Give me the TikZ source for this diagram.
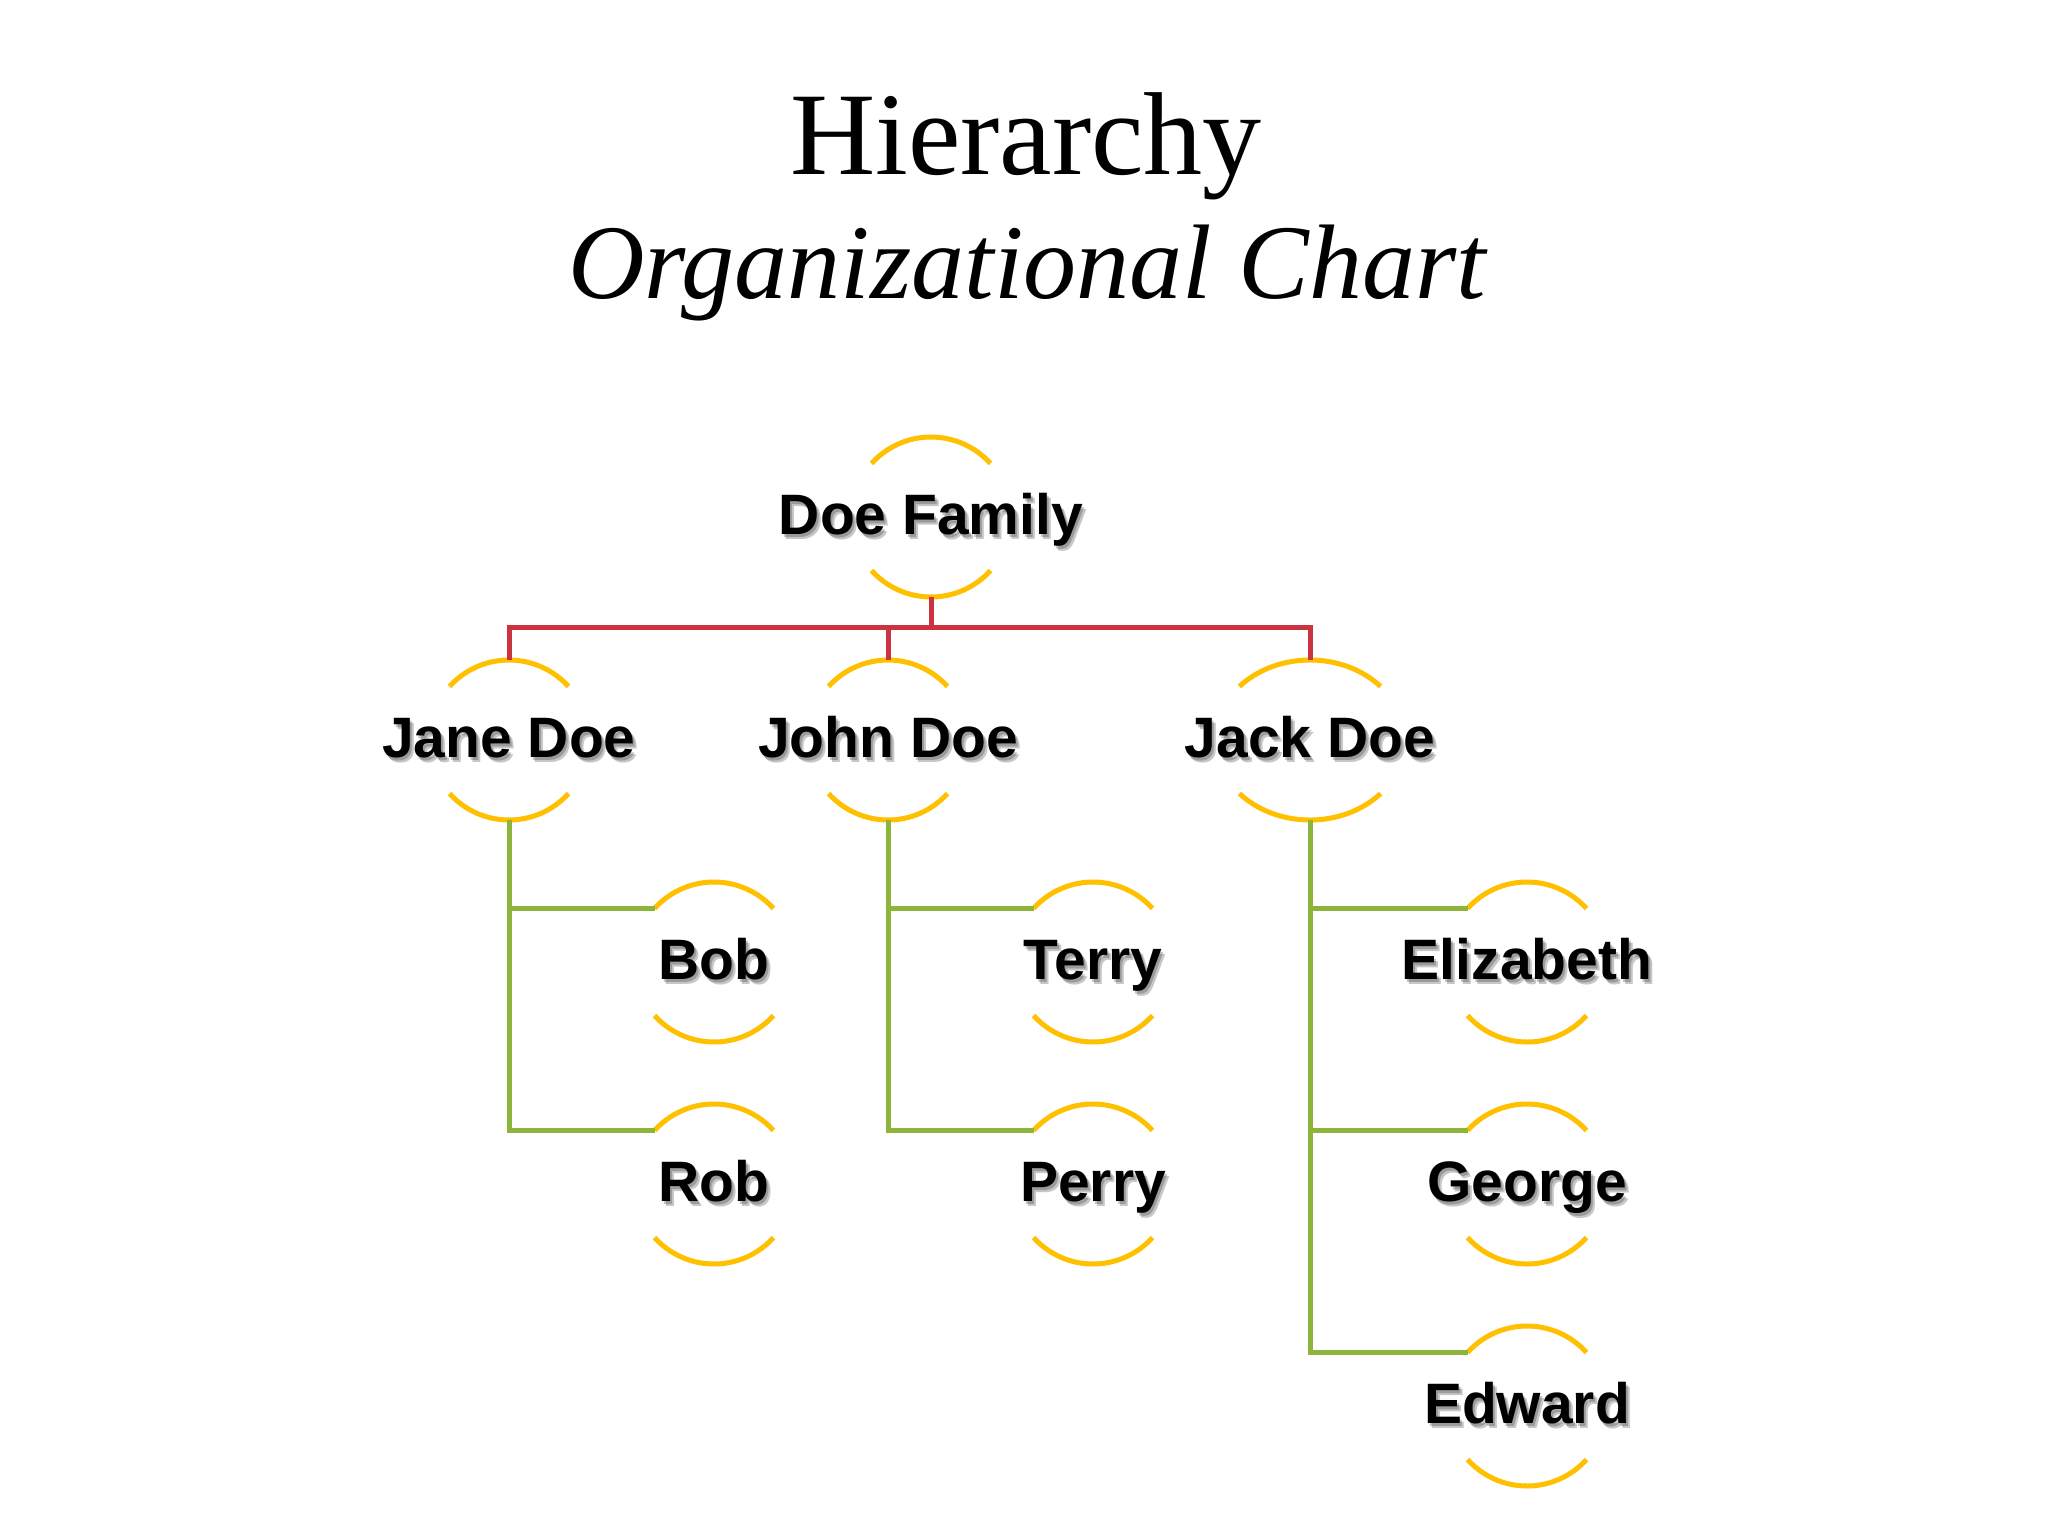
\documentclass[tikz,border=0pt]{standalone}
\usepackage{fontspec}
\setmainfont{Liberation Serif}
\setsansfont{Liberation Sans}
\definecolor{gold}{HTML}{FFC000}
\definecolor{redc}{HTML}{CC3340}
\definecolor{greenc}{HTML}{8DB53C}
\tikzset{
  arcline/.style={draw=gold, line width=2.5pt},
  redline/.style={draw=redc, line width=2.5pt},
  greenline/.style={draw=greenc, line width=2.5pt},
  pnode/.style={circle, minimum size=80pt, inner sep=0pt, outer sep=0pt},
  lbl/.style={font=\sffamily\bfseries\fontsize{28.5}{34}\selectfont, anchor=base, inner sep=0pt},
  shad/.style={lbl, text=black, opacity=0.22},
  ttl/.style={anchor=base, inner sep=0pt},
}
% #1 name, #2 position, #3 x radius, #4 text
\newcommand\orgperson[4]{%
  \node[pnode] (#1) at (#2) {};
  \draw[arcline] ([shift={(42:#3 and 40pt)}]#1.center) arc[start angle=42, end angle=138, x radius=#3, y radius=40pt];
  \draw[arcline] ([shift={(222:#3 and 40pt)}]#1.center) arc[start angle=222, end angle=318, x radius=#3, y radius=40pt];
  \node[shad] (#1s1) at ([xshift=1pt, yshift=-10pt]#1.center) {#4};
  \node[shad] (#1s2) at ([xshift=2pt, yshift=-11pt]#1.center) {#4};
  \node[lbl] (#1t) at ([yshift=-8.5pt]#1.center) {#4};
}
\begin{document}
\begin{tikzpicture}[x=0.5pt, y=-0.5pt]
\useasboundingbox[fill=white] (0,0) rectangle (2048,1536);
% titles
\node[ttl, font=\fontsize{59}{62}\selectfont] (title) at (1026,174) {Hierarchy};
\node[ttl, font=\itshape\fontsize{53}{56}\selectfont] (subtitle) at (1027,298) {Organizational Chart};
% people
\orgperson{doe}{931,517}{40pt}{Doe Family}
\orgperson{jane}{509,740}{40pt}{Jane Doe}
\orgperson{john}{888,740}{40pt}{John Doe}
\orgperson{jack}{1310,740}{47.5pt}{Jack Doe}
\orgperson{bob}{714,962}{40pt}{Bob}
\orgperson{rob}{714,1184}{40pt}{Rob}
\orgperson{terry}{1093,962}{40pt}{Terry}
\orgperson{perry}{1093,1184}{40pt}{Perry}
\orgperson{eliz}{1527,962}{40pt}{Elizabeth}
\orgperson{george}{1527,1184}{40pt}{George}
\orgperson{edward}{1527,1406}{40pt}{Edward}
% red connectors
\coordinate (bus) at ([yshift=-15pt]doe.south);
\draw[redline] (doe.south) -- (bus);
\draw[redline] (bus) -| (jane.north);
\draw[redline] (bus) -| (john.north);
\draw[redline] (bus) -| (jack.north);
% green connectors
\draw[greenline] (jane.south) |- (rob.138);
\draw[greenline] (jane.south) |- (bob.138);
\draw[greenline] (john.south) |- (perry.138);
\draw[greenline] (john.south) |- (terry.138);
\draw[greenline] (jack.south) |- (edward.138);
\draw[greenline] (jack.south) |- (george.138);
\draw[greenline] (jack.south) |- (eliz.138);
\end{tikzpicture}
\end{document}
